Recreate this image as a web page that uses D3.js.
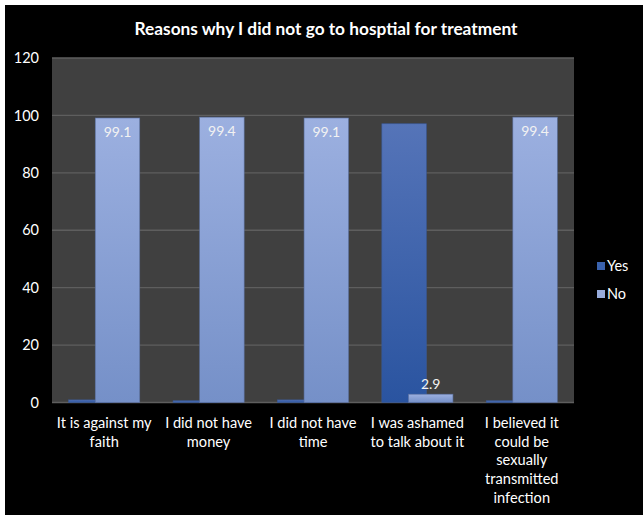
<!DOCTYPE html>
<html>
<head>
<meta charset="utf-8">
<script src="https://cdn.jsdelivr.net/npm/d3@7"></script>
<style>
  html, body { margin: 0; padding: 0; background: #fff; }
  svg { display: block; }
  text { font-family: Lato, "Open Sans", sans-serif; }
</style>
</head>
<body>
<div id="chart"></div>
<script>
// chart data
const categories = [
    ["It is against my", "faith"],
    ["I did not have", "money"],
    ["I did not have", "time"],
    ["I was ashamed", "to talk about it"],
    ["I believed it", "could be", "sexually", "transmitted", "infection"]
];
const yesValues = [0.9, 0.6, 0.9, 97.1, 0.6];
const noValues = [99.1, 99.4, 99.1, 2.9, 99.4];
const yTicks = [0, 20, 40, 60, 80, 100, 120];
const seriesNames = ["Yes", "No"];

const W = 643, H = 515;
const margin = { top: 58, left: 52, right: 70, bottom: 113 };

const svg = d3.select("#chart")
    .append("svg")
    .attr("width", W)
    .attr("height", H);

// gradients for bars
const defs = svg.append("defs");
const grads = [
    { id: "gYes", top: "#5574b8", bottom: "#2a54a0" },
    { id: "gNo", top: "#9cb0e0", bottom: "#7590c8" }
];
grads.forEach(g => {
    const lg = defs.append("linearGradient")
        .attr("id", g.id)
        .attr("x1", 0).attr("y1", 0).attr("x2", 0).attr("y2", 1);
    lg.append("stop").attr("offset", "0%").attr("stop-color", g.top);
    lg.append("stop").attr("offset", "100%").attr("stop-color", g.bottom);
});

// black chart area
svg.append("rect")
    .attr("x", 5).attr("y", 5)
    .attr("width", W - 5).attr("height", H - 5)
    .attr("fill", "#000");

svg.append("text")
    .attr("x", 326)
    .attr("y", 35)
    .attr("text-anchor", "middle")
    .attr("fill", "#fff")
    .attr("font-size", 17.3)
    .attr("font-weight", "bold")
    .text("Reasons why I did not go to hosptial for treatment");

const x0 = margin.left, x1 = 574;
const y0 = 402.5, y1 = margin.top;

const x = d3.scaleBand()
    .domain(d3.range(categories.length))
    .range([x0, x1]);

const y = d3.scaleLinear()
    .domain([0, 120])
    .range([y0, y1]);

const barW = 44.5;
const offset = 13.3;

const plot = svg.append("g");

plot.append("rect")
    .attr("x", x0).attr("y", y1)
    .attr("width", x1 - x0).attr("height", y0 - y1)
    .attr("fill", "#404040");

plot.selectAll(".grid")
    .data(yTicks)
    .enter()
    .append("line")
    .attr("class", "grid")
    .attr("x1", x0).attr("x2", x1)
    .attr("y1", d => y(d)).attr("y2", d => y(d))
    .attr("stroke", "#5e5e5e")
    .attr("stroke-width", 1.3);

// y axis labels
svg.append("g")
    .attr("transform", `translate(${x0 - 13},0)`)
    .call(d3.axisLeft(y).tickValues(yTicks).tickSize(0).tickPadding(0))
    .call(g => g.select(".domain").remove())
    .selectAll("text")
    .attr("fill", "#fff")
    .attr("font-size", 14.5)
    .attr("font-family", "Lato, sans-serif");

const cx = i => x(i) + x.bandwidth() / 2;

plot.selectAll(".bar-yes")
    .data(yesValues)
    .enter()
    .append("rect")
    .attr("class", "bar-yes")
    .attr("x", (d, i) => cx(i) - offset - barW / 2)
    .attr("y", d => y(d))
    .attr("width", barW)
    .attr("height", d => y0 - y(d))
    .attr("fill", "url(#gYes)")
    .attr("stroke", "#3a5a98")
    .attr("stroke-width", 0.6);

plot.selectAll(".bar-no")
    .data(noValues)
    .enter()
    .append("rect")
    .attr("class", "bar-no")
    .attr("x", (d, i) => cx(i) + offset - barW / 2)
    .attr("y", d => y(d))
    .attr("width", barW)
    .attr("height", d => y0 - y(d))
    .attr("fill", "url(#gNo)")
    .attr("stroke", "#5a6f9e")
    .attr("stroke-width", 0.6);

plot.selectAll(".lbl")
    .data(noValues)
    .enter()
    .append("text")
    .attr("class", "lbl")
    .attr("x", (d, i) => cx(i) + offset)
    .attr("y", d => d > 50 ? y(d) + 19 : y(d) - 5)
    .attr("text-anchor", "middle")
    .attr("fill", "#f2f2f2")
    .attr("font-size", 14)
    .text(d => d.toFixed(1));

// category labels
const catG = svg.append("g");
categories.forEach((lines, i) => {
    const t = catG.append("text")
        .attr("x", cx(i))
        .attr("y", 428)
        .attr("text-anchor", "middle")
        .attr("fill", "#fff")
        .attr("font-size", 14.6);
    lines.forEach((ln, j) => {
        t.append("tspan")
            .attr("x", cx(i))
            .attr("dy", j === 0 ? 0 : 18.7)
            .text(ln);
    });
});

// legend
const legend = svg.append("g");
seriesNames.forEach((name, i) => {
    const ly = 266 + i * 28;
    legend.append("rect")
        .attr("x", 597).attr("y", ly - 4)
        .attr("width", 8).attr("height", 8)
        .attr("fill", i === 0 ? "#3a62ad" : "#97abdc");
    legend.append("text")
        .attr("x", 607).attr("y", ly + 5)
        .attr("fill", "#fff")
        .attr("font-size", 14.5)
        .text(name);
});
</script>
</body>
</html>
